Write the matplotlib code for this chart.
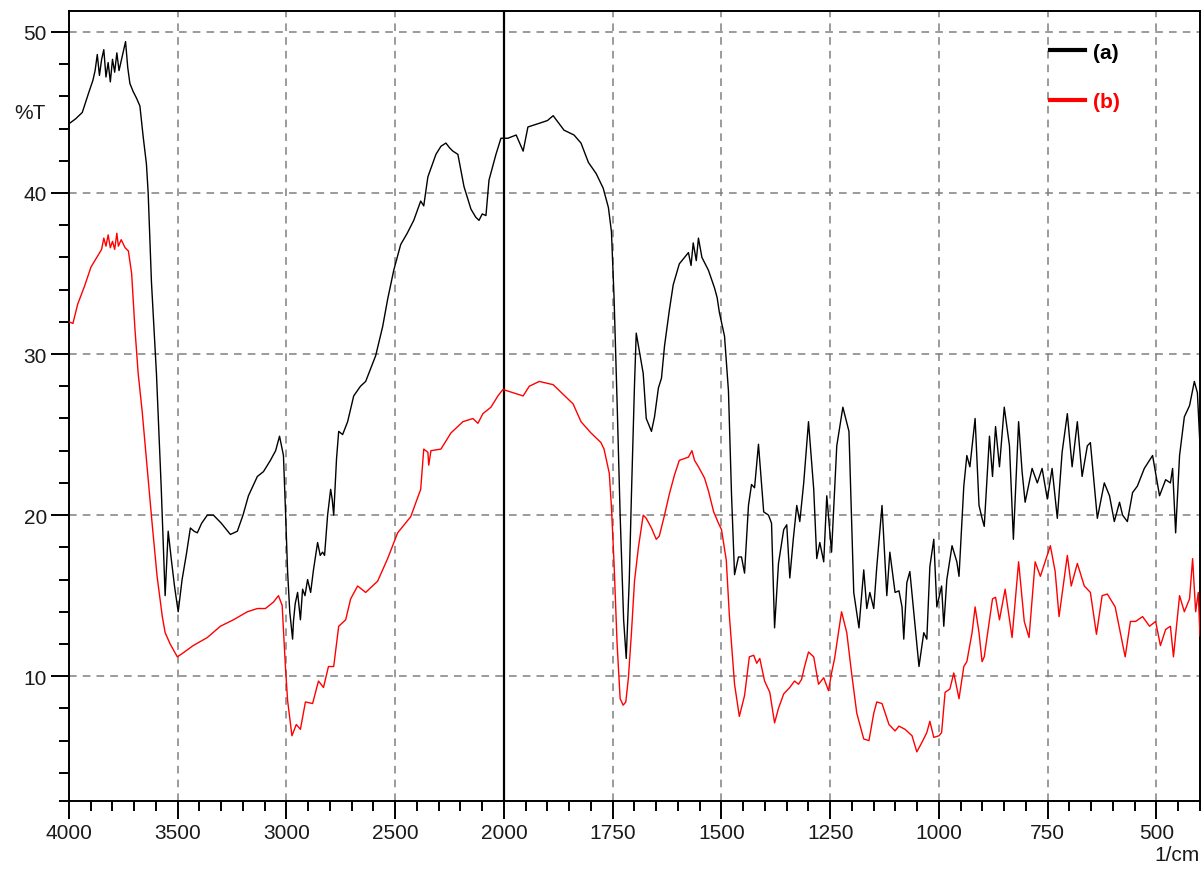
import numpy as np
import matplotlib
matplotlib.use('Agg')
import matplotlib.pyplot as plt  # noqa
from matplotlib.ticker import FixedLocator, MultipleLocator

plt.rcParams.update({
    'font.family': ['Liberation Sans', 'DejaVu Sans'],
    'font.size': 15,
})

# spectrum (a), black
wn_a = [4000, 3970, 3939, 3910, 3890, 3880, 3870, 3860, 3850, 3840, 3830, 3820,
        3810, 3800, 3790, 3780, 3770, 3760, 3750, 3740, 3730, 3720, 3705, 3690,
        3674, 3659, 3644, 3636, 3621, 3598, 3576, 3558, 3544, 3530, 3515, 3498,
        3480, 3460, 3442, 3425, 3410, 3390, 3364, 3336, 3300, 3258, 3226, 3200,
        3175, 3134, 3106, 3074, 3050, 3032, 3014, 3005, 2995, 2985, 2972, 2968,
        2960, 2949, 2936, 2926, 2915, 2903, 2889, 2876, 2857, 2845, 2834, 2825,
        2811, 2797, 2790, 2783, 2770, 2760, 2742, 2719, 2691, 2660, 2636, 2610,
        2590, 2558, 2535, 2507, 2475, 2445, 2415, 2383, 2369, 2350, 2313, 2290,
        2267, 2250, 2235, 2212, 2184, 2152, 2130, 2115, 2100, 2083, 2069, 2037,
        2014, 1991, 1972, 1956, 1945, 1922, 1900, 1887, 1862, 1839, 1823, 1806,
        1788, 1772, 1760, 1753, 1747, 1740, 1733, 1725, 1719, 1712, 1707, 1700,
        1696, 1689, 1680, 1673, 1661, 1654, 1645, 1638, 1631, 1620, 1611, 1597,
        1585, 1576, 1570, 1565, 1558, 1553, 1545, 1530, 1516, 1510, 1505, 1493,
        1484, 1477, 1470, 1461, 1454, 1447, 1438, 1431, 1424, 1415, 1403, 1392,
        1385, 1378, 1369, 1357, 1350, 1343, 1335, 1327, 1320, 1311, 1300, 1288,
        1281, 1274, 1265, 1258, 1247, 1235, 1221, 1207, 1196, 1184, 1173, 1166,
        1159, 1150, 1143, 1131, 1120, 1113, 1101, 1092, 1085, 1081, 1074, 1067,
        1058, 1046, 1035, 1028, 1021, 1012, 1005, 994, 989, 982, 970, 959,
        954, 943, 936, 929, 917, 908, 901, 896, 884, 877, 870, 861,
        850, 838, 829, 817, 809, 802, 786, 774, 763, 751, 740, 728,
        717, 705, 694, 682, 671, 659, 652, 636, 620, 608, 597, 585,
        578, 567, 555, 544, 528, 509, 493, 479, 468, 463, 456, 447,
        436, 424, 413, 406, 400]
t_a = [44.3, 44.6, 45.0, 46.2, 47.0, 47.6, 48.6, 47.3, 48.3, 48.9, 47.2, 48.1,
       46.9, 48.3, 47.5, 48.7, 47.6, 48.2, 48.8, 49.4, 47.8, 46.8, 46.3, 45.9,
       45.4, 43.5, 41.8, 40.0, 34.5, 28.8, 21.7, 15.0, 19.0, 17.3, 15.6, 14.0,
       16.0, 17.6, 19.2, 19.0, 18.9, 19.5, 20.0, 20.0, 19.5, 18.8, 19.0, 20.0,
       21.2, 22.4, 22.7, 23.4, 24.0, 24.9, 23.7, 20.4, 16.5, 14.0, 12.3, 13.4,
       14.5, 15.2, 13.5, 15.4, 15.0, 16.0, 15.2, 16.6, 18.3, 17.5, 17.7, 17.5,
       20.0, 21.6, 21.0, 20.0, 23.5, 25.2, 25.0, 25.8, 27.4, 28.0, 28.3, 29.2,
       29.9, 31.7, 33.4, 35.2, 36.8, 37.5, 38.3, 39.5, 39.2, 41.0, 42.4, 42.9,
       43.1, 42.8, 42.6, 42.4, 40.4, 39.0, 38.5, 38.3, 38.7, 38.6, 40.8, 42.4,
       43.4, 43.4, 43.6, 42.6, 44.1, 44.3, 44.5, 44.8, 43.9, 43.6, 43.1, 41.9,
       41.2, 40.3, 39.1, 37.6, 33.5, 27.0, 20.0, 13.5, 11.1, 16.0, 21.3, 28.1,
       31.3, 30.2, 28.8, 26.0, 25.2, 26.1, 27.9, 28.5, 30.5, 32.7, 34.3, 35.6,
       36.0, 36.3, 35.5, 36.9, 35.8, 37.2, 36.0, 35.2, 34.1, 33.5, 32.6, 31.1,
       27.7, 21.3, 16.3, 17.4, 17.4, 16.4, 20.6, 21.9, 21.7, 24.4, 20.2, 20.0,
       19.5, 13.0, 17.0, 19.1, 19.4, 16.1, 18.5, 20.6, 19.6, 22.0, 25.8, 21.6,
       17.3, 18.3, 17.1, 21.2, 17.7, 24.3, 26.7, 25.2, 15.2, 13.0, 16.6, 14.2,
       15.2, 14.2, 16.8, 20.6, 15.0, 17.7, 15.2, 15.3, 14.3, 12.3, 15.8, 16.5,
       14.0, 10.6, 12.7, 12.3, 16.8, 18.5, 14.3, 15.6, 13.1, 16.0, 18.1, 17.1,
       16.2, 21.8, 23.7, 23.0, 26.0, 20.6, 19.8, 19.3, 24.9, 22.4, 25.5, 23.0,
       26.7, 24.3, 18.5, 25.8, 22.7, 20.8, 22.9, 22.0, 22.9, 21.0, 22.9, 19.8,
       23.9, 26.3, 23.0, 25.8, 22.4, 24.3, 24.5, 19.8, 22.0, 21.2, 19.6, 20.8,
       20.0, 19.6, 21.4, 21.8, 22.9, 23.7, 21.2, 22.2, 22.0, 22.9, 18.9, 23.7,
       26.1, 26.8, 28.3, 27.6, 24.3]

# spectrum (b), red
wn_b = [4000, 3982, 3960, 3929, 3899, 3868, 3850, 3840, 3830, 3820, 3810, 3800,
        3790, 3780, 3773, 3760, 3742, 3727, 3712, 3697, 3682, 3664, 3641, 3618,
        3595, 3571, 3558, 3535, 3502, 3480, 3429, 3364, 3304, 3244, 3180, 3134,
        3097, 3060, 3037, 3020, 3005, 2995, 2975, 2955, 2936, 2913, 2880, 2853,
        2830, 2807, 2783, 2760, 2728, 2705, 2673, 2636, 2581, 2535, 2489, 2429,
        2383, 2369, 2350, 2346, 2336, 2290, 2244, 2189, 2143, 2120, 2097, 2060,
        2028, 2005, 1979, 1956, 1942, 1919, 1887, 1864, 1841, 1823, 1800, 1777,
        1770, 1758, 1753, 1747, 1740, 1733, 1726, 1720, 1714, 1707, 1700, 1691,
        1680, 1673, 1661, 1650, 1643, 1631, 1620, 1608, 1597, 1576, 1568, 1562,
        1553, 1539, 1530, 1518, 1507, 1500, 1489, 1482, 1470, 1459, 1447, 1436,
        1426, 1419, 1412, 1401, 1389, 1378, 1369, 1357, 1343, 1332, 1323, 1316,
        1309, 1300, 1288, 1277, 1265, 1254, 1247, 1240, 1230, 1224, 1212, 1201,
        1189, 1173, 1161, 1150, 1143, 1131, 1115, 1101, 1092, 1078, 1062, 1051,
        1039, 1028, 1021, 1012, 1000, 994, 986, 975, 966, 954, 943, 936,
        924, 917, 908, 901, 896, 884, 877, 870, 861, 848, 832, 817,
        804, 793, 779, 767, 756, 744, 733, 724, 705, 696, 682, 666,
        652, 638, 625, 613, 595, 572, 560, 548, 532, 516, 502, 491,
        479, 468, 461, 447, 436, 424, 417, 410, 404, 400]
t_b = [32.0, 31.9, 33.1, 34.2, 35.4, 36.1, 36.5, 37.2, 36.7, 37.4, 36.6, 37.0,
       36.5, 37.5, 36.7, 37.1, 36.6, 36.4, 35.0, 31.6, 28.8, 26.5, 23.0, 19.5,
       16.2, 13.7, 12.7, 12.0, 11.2, 11.4, 11.9, 12.4, 13.1, 13.5, 14.0, 14.2,
       14.2, 14.6, 15.0, 14.4, 10.6, 8.5, 6.3, 7.0, 6.7, 8.4, 8.3, 9.7,
       9.3, 10.6, 10.6, 13.1, 13.5, 14.8, 15.6, 15.2, 15.9, 17.3, 18.9, 19.9,
       21.6, 24.1, 23.9, 23.1, 24.0, 24.1, 25.1, 25.8, 26.0, 25.7, 26.3, 26.7,
       27.4, 27.8, 27.6, 27.4, 28.0, 28.3, 28.1, 27.5, 26.9, 25.8, 25.1, 24.5,
       24.1, 22.6, 20.5, 17.0, 12.0, 8.6, 8.2, 8.4, 9.9, 12.7, 15.9, 18.0,
       20.0, 19.8, 19.2, 18.5, 18.7, 20.0, 21.3, 22.5, 23.4, 23.6, 24.0, 23.4,
       23.0, 22.3, 21.5, 20.2, 19.5, 19.1, 17.2, 13.8, 9.5, 7.5, 8.8, 11.2,
       11.3, 10.8, 11.1, 9.7, 9.0, 7.1, 8.0, 8.9, 9.3, 9.7, 9.5, 9.8,
       10.6, 11.5, 11.2, 9.5, 9.9, 9.1, 10.2, 11.1, 12.9, 14.0, 12.7, 10.2,
       7.7, 6.1, 6.0, 7.7, 8.4, 8.3, 7.0, 6.6, 6.9, 6.7, 6.3, 5.3,
       5.9, 6.5, 7.2, 6.2, 6.3, 6.5, 9.0, 9.2, 10.2, 8.6, 10.6, 10.9,
       12.7, 14.3, 12.7, 10.9, 11.2, 13.5, 14.8, 14.9, 13.5, 15.4, 12.4, 17.1,
       13.4, 12.4, 17.1, 16.2, 17.1, 18.1, 16.5, 13.7, 17.5, 15.6, 17.0, 15.6,
       15.2, 12.6, 15.0, 15.1, 14.3, 11.2, 13.4, 13.4, 13.7, 13.1, 13.4, 11.9,
       12.9, 13.1, 11.2, 15.0, 14.0, 14.8, 17.3, 14.0, 15.2, 12.5]

x_major = [4000, 3500, 3000, 2500, 2000, 1750, 1500, 1250, 1000, 750, 500]
x_minor = list(range(3900, 2000, -100)) + list(range(1950, 350, -50))
legend_labels = ['(a)', '(b)']


# wavenumber axis is compressed 2:1 above 2000 1/cm
def fwd(x):
    x = np.asarray(x, dtype=float)
    return np.where(x > 2000, 2000 + (x - 2000) / 2.0, x)


def inv(u):
    u = np.asarray(u, dtype=float)
    return np.where(u > 2000, 2000 + (u - 2000) * 2.0, u)


fig = plt.figure(figsize=(12.04, 8.7), dpi=100)
ax = fig.add_axes([69 / 1204, 68 / 870, 1131 / 1204, 790 / 870])
ax.set_xscale('function', functions=(fwd, inv))
ax.set_xlim(4000, 400)
ax.set_ylim(2.25, 51.3)

ax.xaxis.set_major_locator(FixedLocator(x_major))
ax.xaxis.set_minor_locator(FixedLocator(x_minor))
ax.set_xticklabels([str(v) for v in x_major])
ax.yaxis.set_major_locator(MultipleLocator(10))
ax.yaxis.set_minor_locator(FixedLocator([2.25] + list(range(4, 52, 2))))

ax.grid(True, which='major', color='#808080', linestyle=(0, (5, 4)), linewidth=1.1)
ax.axvline(2000, color='black', linewidth=1.6, zorder=2.7)

ax.plot(wn_a, t_a, color='black', linewidth=1.0, label=legend_labels[0], zorder=3)
ax.plot(wn_b, t_b, color='red', linewidth=1.0, label=legend_labels[1], zorder=3)

ax.tick_params(which='major', direction='out', length=13, width=1.4,
               labelsize=15, labelcolor='#1a1a1a', pad=3)
ax.tick_params(which='minor', direction='out', length=7, width=1.4)
for sp in ax.spines.values():
    sp.set_linewidth(1.4)

leg = ax.legend(loc='upper left', bbox_to_anchor=(0.867, 0.96), frameon=False,
                borderaxespad=0, borderpad=0, handlelength=1.7,
                handletextpad=0.4, labelspacing=1.45,
                prop={'weight': 'bold', 'size': 15})
for h in leg.legend_handles:
    h.set_linewidth(3)
for txt, col in zip(leg.get_texts(), ['black', 'red']):
    txt.set_color(col)

ax.text(-0.048, 45.0, '%T', transform=ax.get_yaxis_transform(),
        ha='left', va='center', fontsize=15, color='#1a1a1a')
fig.text(1200 / 1204, 14 / 870, '1/cm', ha='right', va='center',
         fontsize=15, color='#1a1a1a')

fig.savefig('out.png', dpi=100)
